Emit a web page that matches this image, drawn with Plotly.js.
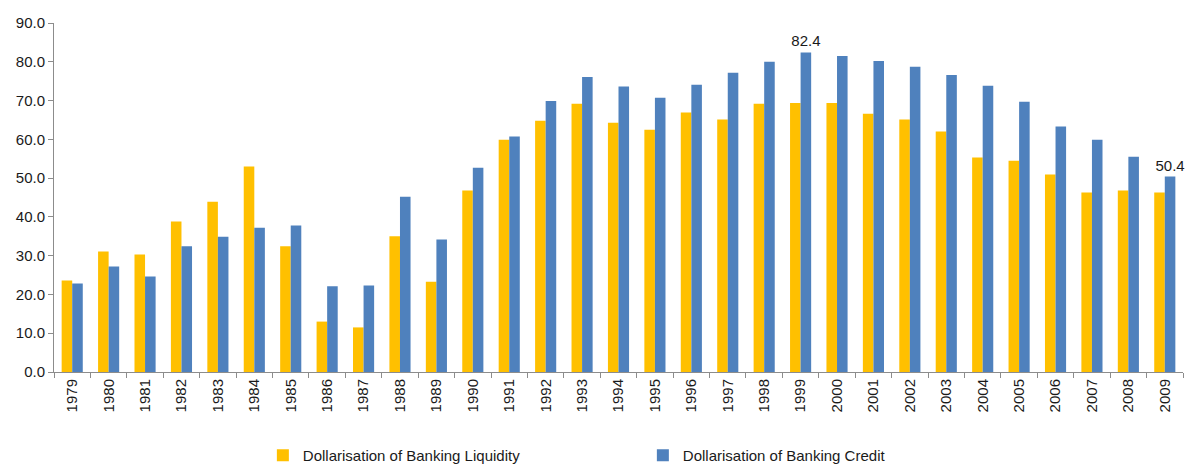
<!DOCTYPE html>
<html>
<head>
<meta charset="utf-8">
<script src="https://cdn.plot.ly/plotly-3.0.1.min.js"></script>
<style>html,body{margin:0;padding:0;background:#fff;}#chart{width:1185px;height:465px;}</style>
</head>
<body>
<div id="chart"></div>
<script>
const years = ['1979','1980','1981','1982','1983','1984','1985','1986','1987','1988','1989','1990','1991','1992','1993','1994','1995','1996','1997','1998','1999','2000','2001','2002','2003','2004','2005','2006','2007','2008','2009'];
const liquidity = [23.6,31.1,30.3,38.8,43.9,53.0,32.4,13.0,11.5,35.0,23.3,46.8,59.9,64.8,69.2,64.3,62.5,66.9,65.1,69.2,69.4,69.4,66.6,65.1,62.0,55.3,54.5,50.9,46.3,46.8,46.3];
const credit = [22.8,27.2,24.6,32.4,34.9,37.2,37.8,22.1,22.3,45.2,34.2,52.7,60.7,69.9,76.1,73.6,70.7,74.1,77.2,80.0,82.4,81.5,80.2,78.7,76.6,73.8,69.7,63.3,59.9,55.5,50.4];
const labelledYears = ['1999','2009'];
const seriesNames = ['Dollarisation of Banking Liquidity','Dollarisation of Banking Credit'];

const creditText = credit.map((v,i)=> labelledYears.includes(years[i]) ? v.toFixed(1) : '');

const font = 'Liberation Sans, Arial, sans-serif';
const data = [
  {type:'bar', x:years, y:liquidity, name:seriesNames[0], marker:{color:'#FFC000'}, hoverinfo:'skip'},
  {type:'bar', x:years, y:credit, name:seriesNames[1], marker:{color:'#4F81BD'},
   text:creditText, textposition:'outside', cliponaxis:false, constraintext:'none',
   textfont:{family:font, size:15, color:'#1a1a1a'}, hoverinfo:'skip'}
];
const layout = {
  width:1185, height:465,
  margin:{l:54, r:2, t:23, b:93, autoexpand:false},
  paper_bgcolor:'#fff', plot_bgcolor:'#fff',
  barmode:'group', bargap:0.42, bargroupgap:0,
  font:{family:font, color:'#1a1a1a', size:15},
  showlegend:true,
  legend:{orientation:'h', x:0.185, xanchor:'left', y:-0.192, yanchor:'top',
          font:{family:font, size:15, color:'#1a1a1a'}, entrywidth:335, itemwidth:30, traceorder:'normal'},
  xaxis:{type:'category', automargin:false, tickangle:-90, tickson:'boundaries', ticks:'outside', ticklen:5,
         tickcolor:'#8c8c8c', showline:true, linecolor:'#8c8c8c', linewidth:1,
         tickfont:{family:font, size:15, color:'#1a1a1a'}, showgrid:false, zeroline:false},
  yaxis:{range:[0,90], automargin:false, dtick:10, tickformat:'.1f', ticks:'outside', ticklen:5,
         tickcolor:'#8c8c8c', showline:true, linecolor:'#8c8c8c', linewidth:1,
         tickfont:{family:font, size:15, color:'#1a1a1a'}, showgrid:false, zeroline:false}
};
Plotly.newPlot('chart', data, layout, {staticPlot:true, displayModeBar:false});
</script>
</body>
</html>
